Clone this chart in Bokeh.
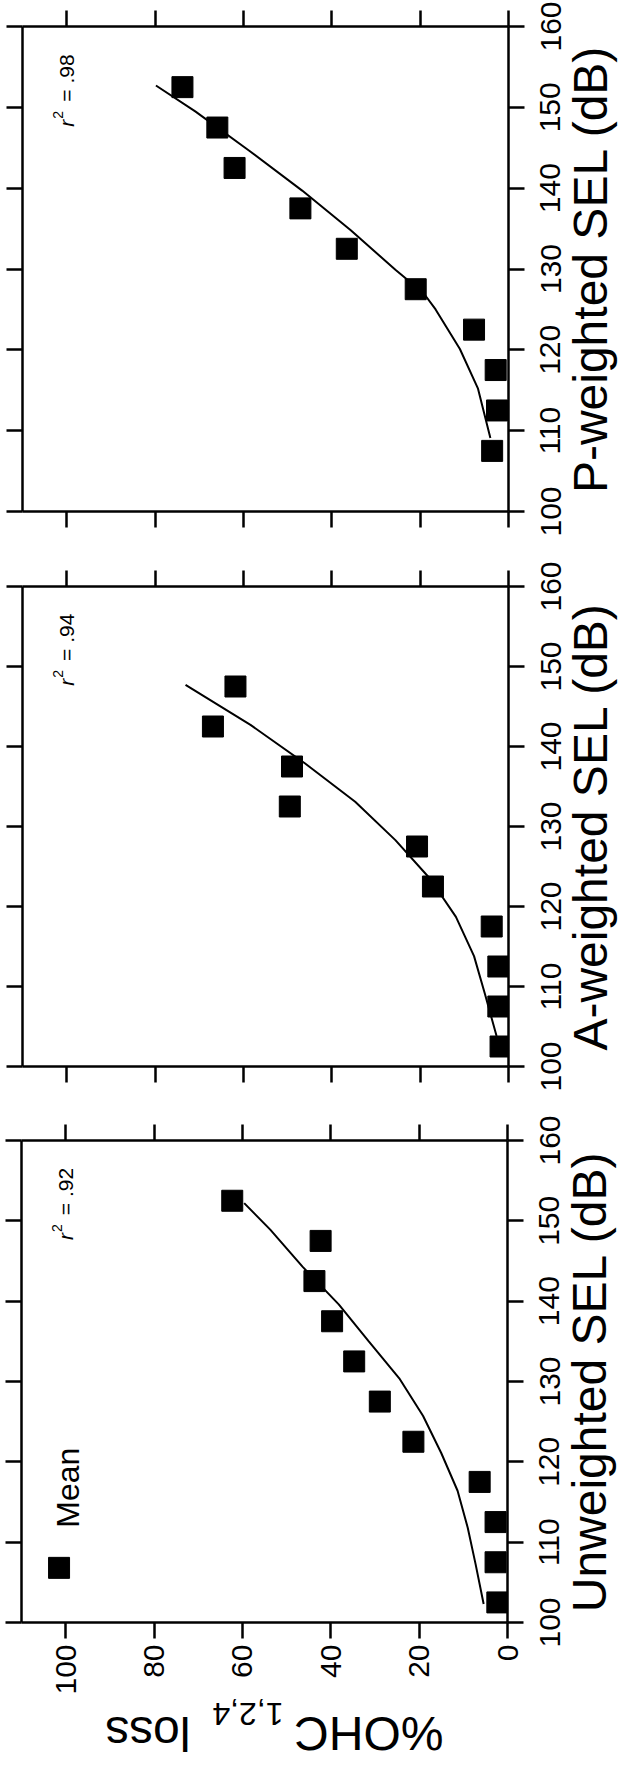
import numpy as np
from bokeh.plotting import figure
from bokeh.models import Range1d, LinearAxis, FixedTicker, Label
from bokeh.layouts import column, row
from bokeh.embed import file_html
from bokeh.resources import INLINE

FONT = "Liberation Sans"

# ---------------- data ----------------
loss_ticks = [0, 20, 40, 60, 80, 100]
sel_ticks = [100, 110, 120, 130, 140, 150, 160]

# Unweighted SEL panel
sel_u = [102.5, 107.5, 112.5, 117.5, 122.5, 127.5, 132.5, 137.5, 142.5, 147.5, 152.5]
loss_u = [2.3, 2.7, 2.7, 6.3, 21.3, 28.9, 34.7, 39.7, 43.7, 42.3, 62.3]
fit_sel_u = [102.3, 107.2, 111.8, 116.4, 121.1, 125.7, 130.4, 135.0, 139.6, 144.3, 148.9, 152.2]
fit_loss_u = [5.4, 7.2, 9.0, 11.3, 15.0, 19.1, 24.5, 31.4, 38.2, 46.4, 53.7, 59.6]

# A-weighted SEL panel
sel_a = [102.5, 107.5, 112.5, 117.5, 122.5, 127.5, 132.5, 137.5, 142.5, 147.5]
loss_a = [1.8, 2.3, 2.3, 3.8, 17.1, 20.7, 49.5, 49.0, 66.9, 61.8]
fit_sel_a = [103.8, 109.0, 113.8, 118.7, 123.5, 128.3, 133.1, 137.9, 142.7, 147.7]
fit_loss_a = [2.7, 5.3, 7.8, 11.9, 17.8, 25.6, 34.7, 46.1, 58.4, 73.1]

# P-weighted SEL panel
sel_p = [107.5, 112.5, 117.5, 122.5, 127.5, 132.5, 137.5, 142.5, 147.5, 152.5]
loss_p = [3.7, 2.6, 2.9, 7.8, 21.0, 36.6, 47.1, 62.0, 65.9, 73.8]
fit_sel_p = [109.1, 115.2, 120.1, 125.0, 127.0, 129.9, 134.8, 139.7, 144.6, 149.5, 152.7]
fit_loss_p = [4.1, 6.9, 11.0, 16.5, 19.2, 25.6, 35.7, 46.7, 58.6, 70.9, 79.8]

r2_texts = ["= .98", "= .94", "= .92"]
titles = ["P-weighted SEL (dB)", "A-weighted SEL (dB)", "Unweighted SEL (dB)"]
legend_text = "Mean"
legend_pos = (101.5, 106.8)

PAGE_RIGHT = 628      # right edge of the drawing (page px)
MAIN_RB = 18          # right border of main figure (outward ticks)
SIDE_LB = 90          # left border of the side figure (tick labels + title)
FW = 486              # main frame width


def style_axis(a, tick_out=16):
    a.axis_line_width = 2.5
    a.axis_line_color = "black"
    a.major_tick_line_width = 2.5
    a.major_tick_line_color = "black"
    a.major_tick_in = 0
    a.major_tick_out = tick_out
    a.minor_tick_in = 0
    a.minor_tick_out = 0


def add_tick_axis(p, side, ticks, show_labels=False):
    a = LinearAxis(ticker=FixedTicker(ticks=ticks))
    style_axis(a)
    if show_labels:
        a.major_label_text_font = FONT
        a.major_label_text_font_size = "30px"
        a.major_label_text_color = "black"
        a.major_label_orientation = np.pi / 2
        a.major_label_standoff = 6
    else:
        a.major_label_text_font_size = "1px"
        a.major_label_text_color = None
        a.major_label_standoff = 0
    p.add_layout(a, side)
    return a


def make_panel(sel, loss, fsel, floss, r2, bl, bt, bb, fh, bottom_labels):
    p = figure(frame_width=FW, frame_height=fh,
               x_range=Range1d(110, 0), y_range=Range1d(100, 160),
               output_backend="svg", toolbar_location=None,
               x_axis_location=None, y_axis_location=None,
               min_border_left=bl, min_border_right=MAIN_RB,
               min_border_top=bt, min_border_bottom=bb)
    p.outline_line_color = None
    p.background_fill_color = "white"
    p.border_fill_color = "white"
    for g in p.grid:
        g.visible = False
    add_tick_axis(p, "left", sel_ticks)
    add_tick_axis(p, "right", sel_ticks)
    add_tick_axis(p, "above", loss_ticks)
    add_tick_axis(p, "below", loss_ticks, bottom_labels)

    p.line(floss, fsel, line_color="black", line_width=2)
    p.scatter(loss, sel, marker="square", size=21, fill_color="black", line_color="black")

    # r^2 annotation
    p.add_layout(Label(x=100, y=147.6, text="r", angle=np.pi / 2, text_font=FONT,
                       text_font_style="italic", text_font_size="21px", text_color="black",
                       text_align="left", text_baseline="alphabetic"))
    p.add_layout(Label(x=102.0, y=148.6, text="2", angle=np.pi / 2, text_font=FONT,
                       text_font_size="14px", text_color="black",
                       text_align="left", text_baseline="alphabetic"))
    p.add_layout(Label(x=100, y=150.7, text=r2, angle=np.pi / 2, text_font=FONT,
                       text_font_size="21px", text_color="black",
                       text_align="left", text_baseline="alphabetic"))
    return p


def make_side(main, bl, bt, bb, fh, title):
    """Narrow figure right of a panel: SEL tick labels and the SEL title,
    both read bottom-to-top, drawn by two left axes sharing the panel's y range."""
    main_right = 8 + bl + FW + MAIN_RB
    s = figure(width=PAGE_RIGHT - main_right, frame_height=fh,
               x_range=Range1d(0, 1), y_range=main.y_range,
               output_backend="svg", toolbar_location=None,
               x_axis_location=None, y_axis_location=None,
               min_border_left=SIDE_LB, min_border_right=0,
               min_border_top=bt, min_border_bottom=bb)
    s.outline_line_color = None
    s.background_fill_color = "white"
    s.border_fill_color = "white"
    for g in s.grid:
        g.visible = False
    # axis nearest the (empty) frame: carries only the title
    t = LinearAxis(ticker=FixedTicker(ticks=[]))
    t.axis_line_color = None
    t.major_tick_line_color = None
    t.minor_tick_line_color = None
    t.major_tick_out = 0
    t.minor_tick_out = 0
    t.axis_label = title
    t.axis_label_text_font = FONT
    t.axis_label_text_font_size = "48px"
    t.axis_label_text_font_style = "normal"
    t.axis_label_text_color = "black"
    t.axis_label_standoff = 0
    s.add_layout(t, "left")
    # outer axis: the SEL tick labels
    a = LinearAxis(ticker=FixedTicker(ticks=sel_ticks))
    a.axis_line_color = None
    a.major_tick_line_color = None
    a.minor_tick_line_color = None
    a.major_tick_in = 0
    a.major_tick_out = 0
    a.minor_tick_in = 0
    a.minor_tick_out = 0
    a.major_label_text_font = FONT
    a.major_label_text_font_size = "30px"
    a.major_label_text_color = "black"
    a.major_label_orientation = "vertical"
    a.major_label_standoff = 0
    s.add_layout(a, "left")
    return s


cfg = [  # left border, top border, bottom border, frame height
    (22, 26, 36, 485),
    (22, 39, 37, 480),
    (21, 37, 74, 482),
]

p_p = make_panel(sel_p, loss_p, fit_sel_p, fit_loss_p, r2_texts[0], *cfg[0], False)
p_a = make_panel(sel_a, loss_a, fit_sel_a, fit_loss_a, r2_texts[1], *cfg[1], False)
p_u = make_panel(sel_u, loss_u, fit_sel_u, fit_loss_u, r2_texts[2], *cfg[2], True)

s_p = make_side(p_p, *cfg[0], titles[0])
s_a = make_side(p_a, *cfg[1], titles[1])
s_u = make_side(p_u, *cfg[2], titles[2])

# legend (Mean) in the unweighted panel
p_u.scatter([legend_pos[0]], [legend_pos[1]], marker="square", size=21,
            fill_color="black", line_color="black")
p_u.add_layout(Label(x=99.4, y=111.8, text=legend_text, angle=np.pi / 2, text_font=FONT,
                     text_font_size="32px", text_color="black",
                     text_align="left", text_baseline="alphabetic"))

# upside-down y-axis title of the original figure: %OHC(1,2,4) loss
top_y = 8 + sum(c[1] + c[2] + c[3] for c in cfg)
bottom_h = 1776 - top_y
b = figure(width=PAGE_RIGHT - 8, height=bottom_h,
           x_range=Range1d(8, PAGE_RIGHT), y_range=Range1d(1776, top_y),
           output_backend="svg", toolbar_location=None,
           x_axis_location=None, y_axis_location=None, min_border=0)
b.outline_line_color = None
b.background_fill_color = "white"
b.border_fill_color = "white"
for g in b.grid:
    g.visible = False
b.add_layout(Label(x=451, y=1740, text="%OHC", angle=np.pi, text_font=FONT,
                   text_font_size="48px", text_color="black",
                   text_align="left", text_baseline="alphabetic"))
b.add_layout(Label(x=291, y=1720, text="1,2,4", angle=np.pi, text_font=FONT,
                   text_font_size="32px", text_color="black",
                   text_align="left", text_baseline="alphabetic"))
b.add_layout(Label(x=198, y=1740, text="loss", angle=np.pi, text_font=FONT,
                   text_font_size="48px", text_color="black",
                   text_align="left", text_baseline="alphabetic"))

layout = column(row(p_p, s_p, spacing=0), row(p_a, s_a, spacing=0),
                row(p_u, s_u, spacing=0), b, spacing=0)
open("out.html", "w").write(file_html(layout, INLINE))
